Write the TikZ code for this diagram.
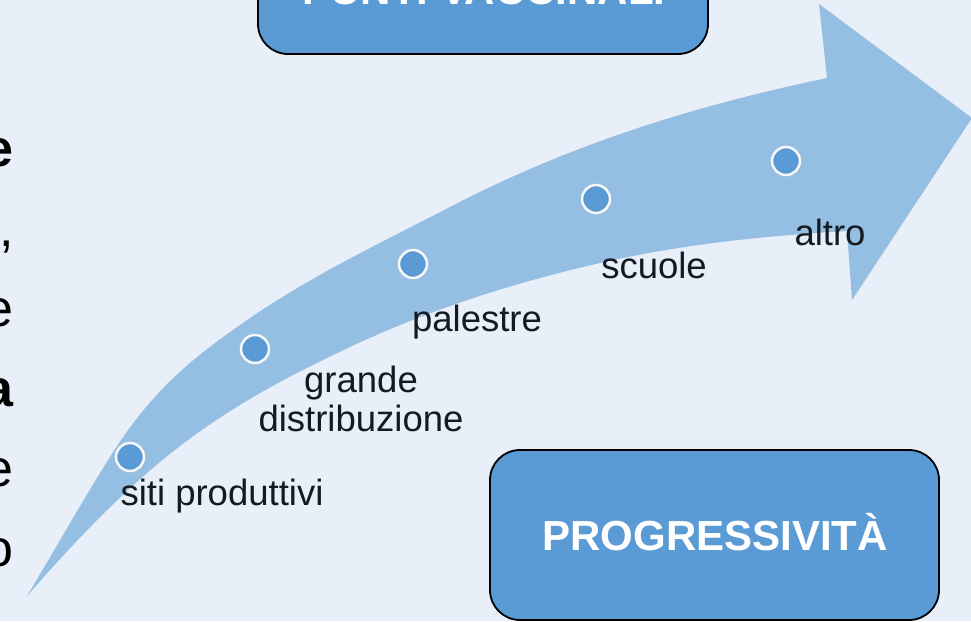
\documentclass[tikz,border=0pt]{standalone}
\usepackage{fontspec}
\setmainfont{Liberation Sans}
\definecolor{bgc}{HTML}{E8EFF8}
\definecolor{arrowc}{HTML}{95BEE3}
\definecolor{boxc}{HTML}{5B9BD5}
\definecolor{txtc}{HTML}{141A22}
\begin{document}
\begin{tikzpicture}[x=1pt,y=-1pt,
  dotnode/.style={circle, fill=boxc, draw=white!94!gray, line width=2.5pt, minimum size=28pt, inner sep=0pt},
  boxnode/.style={rounded corners=30pt, fill=boxc, draw=black, line width=1.8pt, inner sep=0pt},
  boxlabel/.style={text=white, font=\fontsize{42}{48}\selectfont\bfseries, inner sep=0pt},
  lbl/.style={text=txtc, font=\fontsize{36.5}{39}\selectfont, inner sep=0pt, align=center, anchor=base},
  sidetxt/.style={text=black, font=\fontsize{52}{60}\selectfont, inner sep=0pt, anchor=base east},
  sidebold/.style={sidetxt, font=\fontsize{52}{60}\selectfont\bfseries}]
\useasboundingbox (0,0) rectangle (971,621);
\clip (0,0) rectangle (971,621);
\fill[bgc] (0,0) rectangle (971,621);

% big curved arrow
\fill[arrowc] (27,596)
  .. controls (54.7,550) and (82.3,501) .. (110,457)
  .. controls (156.7,382.3) and (203.3,350.7) .. (250,318)
  .. controls (316.7,272.7) and (383.3,241.7) .. (450,207)
  .. controls (575.7,141.6) and (701.3,104.4) .. (827,78)
  -- (819,4) -- (972,118) -- (852,300) -- (847,231)
  .. controls (764.7,235.9) and (682.3,244.1) .. (600,263)
  .. controls (516.7,282.2) and (433.3,307.8) .. (350,347)
  .. controls (286.7,376.8) and (223.3,409.5) .. (160,462)
  .. controls (115.7,498.8) and (71.3,545.1) .. (27,596)
  -- cycle;

% dots
\node[dotnode] (d1) at (130,457) {};
\node[dotnode] (d2) at (255,349) {};
\node[dotnode] (d3) at (413,264) {};
\node[dotnode] (d4) at (596,199) {};
\node[dotnode] (d5) at (786,161) {};

% labels
\node[lbl] (l1) at (222,505) {siti produttivi};
\node[lbl] (l2) at (361,431) {grande\\distribuzione};
\node[lbl] (l3) at (477,331) {palestre};
\node[lbl] (l4) at (654,278) {scuole};
\node[lbl] (l5) at (830,245) {altro};

% boxes
\node[boxnode, minimum width=450pt, minimum height=128pt] (topbox) at (483,-10) {};
\node[boxlabel, anchor=base] (toplabel) at (484,5) {PUNTI VACCINALI};
\node[boxnode, minimum width=449pt, minimum height=170pt] (progbox) at (714.5,535) {};
\node[boxlabel, anchor=base] (proglabel) at (715,550) {PROGRESSIVITÀ};

% cut-off text at left edge
\node[sidebold] (s1) at (14,166) {e};
\node[sidetxt] (s2) at (14,246) {,};
\node[sidetxt] (s3) at (14,326) {e};
\node[sidebold] (s4) at (14,406) {a};
\node[sidetxt] (s5) at (14,486) {e};
\node[sidetxt] (s6) at (14,566) {o};
\end{tikzpicture}
\end{document}
